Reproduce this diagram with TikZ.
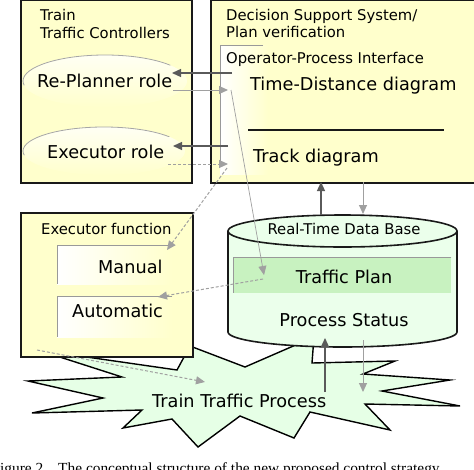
\documentclass[tikz,border=0pt]{standalone}
\usepackage{fontspec}
\setmainfont{DejaVu Sans}
\newfontfamily\capfont{Liberation Serif}
\usetikzlibrary{arrows.meta,shapes.geometric}
\definecolor{boxy}{HTML}{FFFFCC}
\definecolor{boxw}{HTML}{FFFFF4}
\definecolor{dbg}{HTML}{EBFFEB}
\definecolor{tpg}{HTML}{C8F2C0}
\definecolor{starg}{HTML}{E6FFE6}
\definecolor{darkg}{HTML}{5A5A5A}
\definecolor{lightg}{HTML}{A0A0A0}
\definecolor{edgeg}{HTML}{999999}
\begin{document}
\begin{tikzpicture}[x=1pt,y=-1pt,
  box/.style={draw=black!90, line width=1.8pt, fill=boxy, inner sep=0pt, anchor=north west},
  small/.style={font=\fontsize{14.8}{17}\selectfont, inner sep=0pt, anchor=base west},
  big/.style={font=\fontsize{17.7}{21}\selectfont, inner sep=0pt, anchor=base west},
  role/.style={ellipse, inner sep=0pt, top color=boxw, bottom color=boxy},
  sub/.style={inner sep=0pt, anchor=north west, left color=white, right color=boxy},
  darr/.style={draw=darkg, line width=1.3pt, -{Triangle[length=9pt,width=8pt]}},
  larr/.style={draw=lightg, line width=1pt, -{Triangle[length=9pt,width=8pt]}},
  dsh/.style={larr, dash pattern=on 3pt off 2pt},
  thinl/.style={draw=edgeg, line width=0.9pt}]
\useasboundingbox (0,0) rectangle (474,469);
\fill[white] (0,0) rectangle (474,469);

% star (drawn first, partly hidden)
\draw[fill=starg, line width=1.4pt, line join=miter]
  (312,363) -- (395,361) -- (363,374) -- (450,380) -- (382,391) -- (460,406)
  -- (365,404) -- (390,430) -- (310,412) -- (294,438) -- (240,416) -- (198,447)
  -- (172,419) -- (123,428) -- (142,410) -- (32,413) -- (103,398) -- (28,381)
  -- (122,377) -- (38,350) -- (177,370) -- (190,346) -- (245,367) -- (314,337) -- cycle;
\node[big] (ttp) at (152,407) {Train Traffic Process};

% Train Traffic Controllers
\node[box, minimum width=171pt, minimum height=183pt] (tc) at (20,-1) {};
\node[small] (tcA) at (40,20) {Train};
\node[small] (tcB) at (40,38) {Traffic Controllers};
\node[role, minimum width=164pt, minimum height=52pt] (rp) at (105,81) {};
\node[role, minimum width=162pt, minimum height=48pt] (er) at (104,151) {};
\begin{scope}
  \clip (105,81) -- (10,86) -- (10,40) -- (200,40) -- (200,58) -- cycle;
  \draw[gray!70, line width=0.8pt] (rp.center) ellipse [x radius=82, y radius=26];
\end{scope}
\begin{scope}
  \clip (104,151) -- (10,156) -- (10,110) -- (200,110) -- (200,130) -- cycle;
  \draw[gray!70, line width=0.8pt] (er.center) ellipse [x radius=81, y radius=24];
\end{scope}
\node[big] (rpT) at (37,87) {Re-Planner role};
\node[big] (erT) at (47,158) {Executor role};

% Decision Support System
\node[box, minimum width=268pt, minimum height=183pt] (dss) at (210,-1) {};
\node[sub, minimum width=48pt, minimum height=129pt] (opi) at (220,45) {};
\draw[thinl] (263,45) -- (opi.north west) -- (220,167);
\node[small] (dssA) at (226,20) {Decision Support System/};
\node[small] (dssB) at (226,37) {Plan verification};
\node[small] (opiT) at (226,63) {Operator-Process Interface};
\node[big] (tdd) at (250,90) {Time-Distance diagram};
\coordinate (hl1) at (248,130);
\coordinate (hl2) at (444,130);
\draw[line width=1.5pt, black!90] (hl1) -- (hl2);
\node[big] (trd) at (253,162) {Track diagram};

% Executor function
\node[box, minimum width=172pt, minimum height=144pt] (ef) at (20,212) {};
\node[small] (efT) at (41,234) {Executor function};
\node[sub, minimum width=115pt, minimum height=39pt] (man) at (57,245) {};
\draw[thinl] (man.north east) -- (man.north west) -- (man.south west);
\node[sub, minimum width=115pt, minimum height=41pt] (aut) at (57,296) {};
\draw[thinl] (aut.north east) -- (aut.north west) -- (aut.south west);
\node[big] (manT) at (98,273) {Manual};
\node[big] (autT) at (72,317) {Automatic};

% Real-Time Data Base cylinder
\path[draw=black!90, line width=1.6pt, fill=dbg]
  (228,231) -- (228,332) arc[start angle=180, end angle=0, x radius=114.5, y radius=15]
  -- (457,231) arc[start angle=0, end angle=-180, x radius=114.5, y radius=16] -- cycle;
\draw[black!90, line width=1.6pt] (228,231) arc[start angle=180, end angle=0, x radius=114.5, y radius=16];
\node[inner sep=0pt, anchor=north west, minimum width=218pt, minimum height=36pt, fill=tpg] (tp) at (233,257) {};
\draw[thinl] (tp.north east) -- (tp.north west) -- (tp.south west);
\node[small, anchor=base] (dbT) at (344,234) {Real-Time Data Base};
\node[big, anchor=base] (tpT) at (344,283) {Traffic Plan};
\node[big, anchor=base] (psT) at (344,326) {Process Status};

% connector end points
\coordinate (a1s) at (232,73);  \coordinate (a1e) at (172,73);
\coordinate (a2s) at (173,90);  \coordinate (a2e) at (228,90);
\coordinate (a3s) at (228,146); \coordinate (a3e) at (173,146);
\coordinate (a4s) at (168,164); \coordinate (a4e) at (228,164);
\coordinate (a5s) at (227,168); \coordinate (a5e) at (167,250);
\coordinate (a6s) at (231,90);  \coordinate (a6e) at (264,275);
\coordinate (a7s) at (263,279); \coordinate (a7e) at (158,297);
\coordinate (a8s) at (321,215); \coordinate (a8e) at (321,182);
\coordinate (a9s) at (363,182); \coordinate (a9e) at (363,214);
\coordinate (b1s) at (325,392); \coordinate (b1e) at (325,338);
\coordinate (b2s) at (363,340); \coordinate (b2e) at (363,392);
\coordinate (b3s) at (37,350);  \coordinate (b3e) at (205,382);

\draw[darr] (a1s) -- (a1e);
\draw[larr] (a2s) -- (a2e);
\draw[darr] (a3s) -- (a3e);
\draw[dsh] (a4s) -- (a4e);
\draw[dsh] (a5s) -- (a5e);
\draw[larr, line width=0.7pt] (a6s) -- (a6e);
\draw[dsh] (a7s) -- (a7e);
\draw[darr] (a8s) -- (a8e);
\draw[larr] (a9s) -- (a9e);
\draw[darr] (b1s) -- (b1e);
\draw[larr] (b2s) -- (b2e);
\draw[dsh] (b3s) -- (b3e);

% caption (cut off by the frame)
\node[font=\capfont\fontsize{15.4}{18}\selectfont, anchor=base west, inner sep=0pt] (cap) at (-8.6,473) {Figure 2.\hspace{11pt}The conceptual structure of the new proposed control strategy};
\end{tikzpicture}
\end{document}
